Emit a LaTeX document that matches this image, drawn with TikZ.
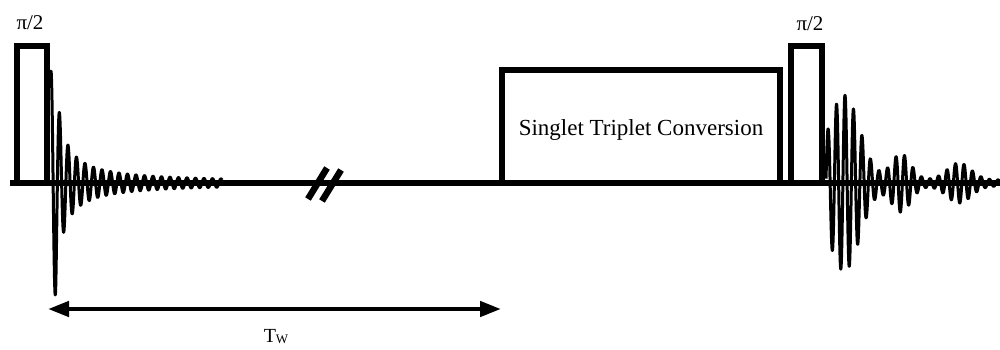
\documentclass[tikz,border=0pt]{standalone}
\usepackage{fontspec}
\setmainfont{Liberation Serif}
\usetikzlibrary{arrows.meta}

\tikzset{
  pulse/.style={draw, line width=6pt, rectangle, inner sep=0pt, outer sep=0pt,
    anchor=south, fill=white},
  baseline/.style={line width=6pt},
  wave/.style={line width=3pt, line join=round},
  breakmark/.style={line width=6.5pt},
  span/.style={line width=4.5pt, {Triangle[length=21pt,width=15pt]}-{Triangle[length=21pt,width=15pt]}},
  lab/.style={inner sep=0pt, font=\fontsize{21}{24}\selectfont},
}

\begin{document}
\begin{tikzpicture}[x=1pt, y=-1pt]
  \useasboundingbox (0,0) rectangle (1000,349);

  % excitation pulse, conversion block and read-out pulse
  \node[pulse, minimum width=30pt, minimum height=137pt] (p1) at (32,183) {};
  \node[pulse, minimum width=278pt, minimum height=113pt] (stc) at (641,183) {};
  \node[font=\fontsize{23}{27}\selectfont, inner sep=0pt, anchor=base] (stctext)
        at (641,135) {Singlet Triplet Conversion};
  \node[pulse, minimum width=31pt, minimum height=137pt] (p2) at (806.5,183) {};

  % pulse labels
  \node[lab, anchor=base] (l1) at (30,29) {π/2};
  \node[lab, anchor=base] (l2) at (810,30) {π/2};

  % time axis
  \coordinate (b0) at (10,183);
  \coordinate (b1) at (1000,183);
  \draw[baseline] (b0) -- (b1);

  % free induction decay after the first pulse
  \draw[wave] plot[domain=50.5:222, samples=800]
    (\x, {183 - min(112, 700/(\x-49.5))*cos(42.353*(\x-51))});

  % signal after the read-out pulse
  \draw[wave] plot[domain=826:1000, samples=800]
    (\x, {183 - (85*exp(-((\x-844)/22.36)^2) + 26*exp(-((\x-901)/14)^2)
                 + 17*exp(-((\x-959)/17)^2) + 3)*cos(42.353*(\x-828))});

  % axis break
  \draw[breakmark] (308,199) -- (327,168);
  \draw[breakmark] (322,201) -- (341,170);

  % waiting time
  \coordinate (a1) at (48,309);
  \coordinate (a2) at (501,309);
  \draw[span] (a1) -- (a2);
  \node[inner sep=0pt, anchor=base, font=\fontsize{20}{24}\selectfont] (tw)
    at (276,342) {T{\fontsize{13}{15}\selectfont\raisebox{-1.5pt}{W}}};
\end{tikzpicture}
\end{document}
